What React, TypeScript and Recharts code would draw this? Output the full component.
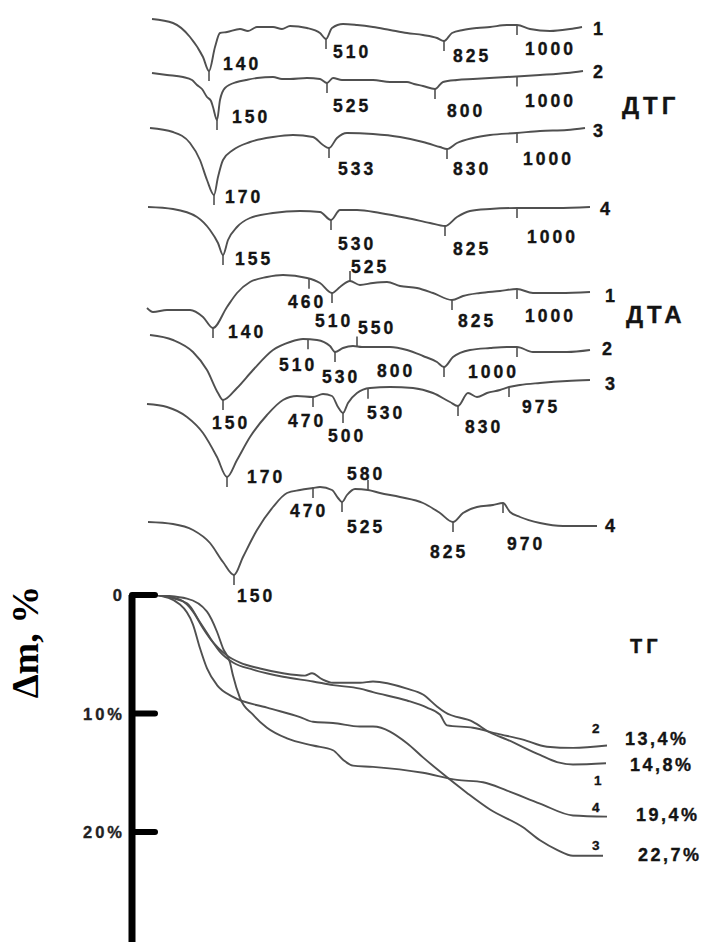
import React from 'react';
import { LineChart, Line, XAxis, YAxis, ReferenceDot } from 'recharts';

// ================= DATA =================
// t: run time (min); DTG / DTA: deflection from baseline (a.u., up = positive)
const dtg1T = [0.5, 5.75, 10, 13.25, 14.75, 16.25, 17.5, 19.25, 22.5, 24.5, 26.75, 30.75, 33, 35, 39.25, 42.5, 44, 45.5, 48.25, 51.75, 55.75, 60, 64.25, 68.25, 71.75, 73.5, 75.5, 78.25, 81.75, 85, 89.25, 91.75, 95, 100, 105, 108];
const dtg1V = [8, 4, -10, -30, -44, -20, -6, -5, -2, -4, 0, 0, -2, 1, -1, -6, -12, -1, 3, 2, 0, -3, -6, -8, -11, -14, -6, -3, -1, 0, 2, 2, -2, -4, -2, 0];
const dtg1PeakT = [14.75, 44, 73.5, 91.75];
const dtg1PeakLbl = ['140', '510', '825', '1000'];

const dtg2T = [0.5, 4.25, 8.25, 10.5, 11.75, 13, 14.25, 15.25, 15.75, 16.75, 17.5, 18.75, 21.75, 24, 26.75, 30.75, 33, 35, 39.25, 42.5, 44.25, 45.75, 48, 51.75, 55.75, 60, 64.25, 66, 68.25, 71.25, 73.25, 76.75, 80.75, 89.25, 97.5, 104.25, 108.25];
const dtg2V = [-2, -4, -6, -9, -14, -18, -26, -30, -36, -49, -29, -17, -11, -9, -7, -6, -8, -8, -7, -8, -12, -7, -9, -9, -9, -11, -11, -13, -15, -18, -11, -9, -8, -6, -4, -2, 0];
const dtg2PeakT = [16.75, 44.25, 71.25, 91.75];
const dtg2PeakLbl = ['150', '525', '800', '1000'];

const dtg3T = [0, 5.75, 10, 12.5, 14.25, 16, 17, 18.25, 20.75, 25, 30.75, 35.75, 40.75, 43.25, 44.75, 46.75, 49.25, 55.75, 62.5, 68.25, 72.5, 74.25, 76.75, 80.75, 85, 91.75, 97.5, 104.25, 108.75];
const dtg3V = [0, -4, -15, -32, -52, -67, -49, -32, -22, -14, -9, -7, -9, -17, -20, -10, -5, -6, -9, -14, -19, -21, -15, -10, -7, -5, -3, -2, 0];
const dtg3PeakT = [16, 44.75, 74.25, 91.75];
const dtg3PeakLbl = ['170', '533', '830', '1000'];

const dtg4T = [-0.5, 5.75, 11.75, 15, 17, 18.25, 19.5, 21.75, 25, 30.75, 37.5, 42.5, 45.25, 47.5, 51.75, 57.5, 64.25, 70, 73.75, 76.75, 80, 85, 91.75, 101.75, 110];
const dtg4V = [0, -2, -10, -23, -36, -48, -33, -20, -11, -6, -4, -5, -13, -3, -3, -6, -11, -16, -19, -10, -4, -2, -1, -1, 0];
const dtg4PeakT = [18.25, 45.25, 73.75, 91.75];
const dtg4PeakLbl = ['155', '530', '825', '1000'];

const dta1T = [-0.75, 0.75, 4.25, 10, 13.25, 15.75, 19.25, 21.75, 25, 29.25, 33.25, 39.25, 42.5, 45.5, 47.5, 50, 52.5, 55.75, 59.25, 62.5, 66.75, 70.75, 75.5, 78.25, 82.5, 87.5, 91.75, 95.75, 102.5, 110];
const dta1V = [-16, -20, -18, -18, -25, -36, -15, -1, 10, 15, 17, 14, 9, -1, 5, 11, 7, 9, 10, 6, 4, -1, -8, -4, -1, 1, 3, -1, -1, 0];
const dta1PeakT = [15.75, 39.75, 50, 45.5, 75.5, 91.75];
const dta1PeakLbl = ['140', '460', '525', '510', '825', '1000'];

const dta2T = [0, 5.75, 10.75, 14.25, 17, 18.25, 21.75, 25.75, 30.75, 35, 38.25, 41.75, 45, 46.25, 48.25, 50.75, 53, 55.75, 60, 64.25, 68.25, 71.75, 73.5, 75.75, 80, 85, 89.25, 91.75, 95.75, 104.25, 110];
const dta2V = [15, 10, -2, -20, -43, -50, -38, -20, 0, 8, 11, 10, 4, -2, 2, 4, 3, 3, 3, 0, -6, -12, -17, -7, 0, 2, 3, 3, -2, -2, 0];
const dta2PeakT = [18.25, 39.5, 46.25, 51.75, 73.5, 91.75];
const dta2PeakLbl = ['150', '510', '530', '550', '800', '1000'];

const dta3T = [-0.75, 4.25, 9.25, 13.25, 16.75, 19.25, 21.75, 25, 29.25, 33.25, 36.75, 40.75, 43.25, 45.5, 47, 48.25, 49.5, 51.75, 55, 60, 65.75, 70.75, 75, 77, 79.5, 81.75, 84.25, 87.5, 89.75, 92.5, 97.5, 104.25, 110];
const dta3V = [-24, -27, -37, -53, -77, -97, -80, -57, -35, -20, -16, -17, -14, -16, -27, -33, -23, -13, -8, -7, -8, -13, -22, -26, -13, -17, -13, -10, -7, -5, -3, -1, 0];
const dta3PeakT = [19.25, 40.75, 48.25, 54.5, 77, 89.75];
const dta3PeakLbl = ['170', '470', '500', '530', '830', '975'];

const dta4T = [-0.5, 5.75, 10.75, 15, 18.25, 21, 23.25, 26.75, 30.75, 34.25, 37.5, 40.75, 42.5, 45.5, 47, 48, 49.25, 51.25, 54.5, 57.5, 62.5, 68.25, 72.5, 75.75, 78.25, 81.75, 85.75, 88.25, 90, 92.5, 97.5, 103.25, 111.75];
const dta4V = [4, 2, -4, -17, -36, -49, -31, -4, 19, 33, 36, 38, 39, 36, 28, 24, 31, 37, 36, 33, 29, 23, 13, 4, 13, 19, 21, 23, 14, 9, 3, 0, 0];
const dta4PeakT = [21, 40.75, 48, 54.5, 75.75, 88.25];
const dta4PeakLbl = ['150', '470', '525', '580', '825', '970'];

// TG: mass loss, %
const tg1T = [1.75, 7.5, 10.75, 13.25, 15.75, 19.25, 22.5, 27.5, 33.25, 38.75, 40.5, 43, 45.75, 52.5, 55.75, 64.25, 68.25, 71.75, 73.75, 80.75, 85, 89.25, 97.5, 101.75, 105.75, 114];
const tg1V = [0, 0.4, 1.4, 2.8, 4.0, 5.1, 5.7, 6.2, 6.6, 6.8, 6.6, 7.1, 7.4, 7.4, 7.3, 7.9, 8.4, 9.4, 9.9, 10.7, 11.6, 12.2, 13.5, 14.1, 14.3, 14.2];
const tg2T = [1.75, 9.25, 12.5, 15, 17.5, 20.75, 25.75, 33.25, 40.75, 45.75, 52.5, 55.75, 64.25, 69.25, 72.5, 74.25, 80.75, 86.75, 93.25, 99.25, 105.75, 114.25];
const tg2V = [0, 0.7, 2.3, 3.6, 4.8, 5.7, 6.3, 6.9, 7.3, 7.6, 7.9, 8.2, 8.9, 9.5, 10.1, 11.0, 11.2, 11.7, 12.2, 12.8, 12.9, 12.7];
const tg3T = [1.75, 7.5, 10.75, 12.5, 14.25, 16.75, 20.75, 29.25, 37.5, 40.75, 45.75, 52.5, 55.75, 64.25, 68.25, 72.5, 79.25, 85, 93.25, 97.5, 101.75, 105.75, 113.25];
const tg3V = [0, 0.8, 2.5, 4.5, 6.2, 7.6, 8.6, 9.5, 10.3, 10.7, 10.8, 11.1, 11.1, 12.5, 13.7, 14.9, 16.7, 18.1, 19.6, 20.7, 21.5, 22.0, 22.0];
const tg4T = [1.75, 9.25, 14.25, 16.75, 18.25, 20, 20.75, 22.5, 25.75, 29.25, 34.25, 40.75, 45.75, 48.25, 50.75, 55.75, 68.25, 76.75, 83.25, 89.25, 97.5, 105.75, 114.25];
const tg4V = [0, 0.3, 1.4, 3.1, 4.5, 5.7, 6.8, 8.7, 10.1, 11.2, 12.1, 12.7, 13.1, 13.9, 14.4, 14.5, 15.0, 15.6, 15.8, 16.5, 17.6, 18.6, 18.7];
const tgFinalLbl = ['14,8%', '13,4%', '22,7%', '19,4%'];
const tgTicks = [0, 10, 20];
const tgTickLbl = ['0', '10%', '20%'];

// ================= LAYOUT / STYLE =================
const W = 709;
const H = 942;
const T_DOMAIN: [number, number] = [-37.5, 139.75];
const TG_TOP = 595;
const TG_AXIS_X = 132;
const FONT = '"Liberation Sans", Arial, Helvetica, sans-serif';
const CURVE = '#505050';
const INK = '#141414';

type Lay = [number, number, number]; // tick direction, dx, dy
const THERMO = [
  { t: dtg1T, v: dtg1V, base: 27, pk: dtg1PeakT, lbl: dtg1PeakLbl, num: '1', nd: [11, 8], lay: [[1, 14, -1], [1, 7, 19], [1, 9, 21], [1, 8, 30]] as Lay[] },
  { t: dtg2T, v: dtg2V, base: 71, pk: dtg2PeakT, lbl: dtg2PeakLbl, num: '2', nd: [10, 7], lay: [[1, 15, 3], [1, 6, 29], [1, 12, 28], [1, 8, 31]] as Lay[], title: 'ДТГ', td: [39, 43] },
  { t: dtg3T, v: dtg3V, base: 128, pk: dtg3PeakT, lbl: dtg3PeakLbl, num: '3', nd: [8, 9], lay: [[1, 11, 8], [1, 9, 27], [1, 6, 26], [1, 6, 32]] as Lay[] },
  { t: dtg4T, v: dtg4V, base: 207, pk: dtg4PeakT, lbl: dtg4PeakLbl, num: '4', nd: [10, 8], lay: [[1, 12, 10], [1, 7, 30], [1, 8, 29], [1, 10, 35]] as Lay[] },
  { t: dta1T, v: dta1V, base: 292, pk: dta1PeakT, lbl: dta1PeakLbl, num: '1', nd: [15, 10], lay: [[1, 15, 10], [1, -21, 29], [-1, 1, -8], [1, -17, 34], [1, 6, 27], [1, 8, 33]] as Lay[], title: 'ДТА', td: [36, 31] },
  { t: dta2T, v: dta2V, base: 350, pk: dta2PeakT, lbl: dta2PeakLbl, num: '2', nd: [12, 5], lay: [[1, -11, 29], [1, -29, 32], [1, -13, 31], [-1, 1, -12], [1, -67, 10], [1, -49, 31]] as Lay[] },
  { t: dta3T, v: dta3V, base: 380, pk: dta3PeakT, lbl: dta3PeakLbl, num: '3', nd: [15, 10], lay: [[1, 20, 6], [1, -25, 30], [1, -15, 29], [1, -1, 30], [1, 7, 27], [1, 13, 26]] as Lay[] },
  { t: dta4T, v: dta4V, base: 526, pk: dta4PeakT, lbl: dta4PeakLbl, num: '4', nd: [8, 6], lay: [[1, 3, 27], [1, -23, 29], [1, 5, 31], [-1, -21, -10], [1, -23, 36], [1, 4, 47]] as Lay[] },
];

const TG = [
  { t: tg1T, v: tg1V, num: '1', nd: [-12, 22], fin: tgFinalLbl[0], fd: [24, 8] },
  { t: tg2T, v: tg2V, num: '2', nd: [-15, -13], fin: tgFinalLbl[1], fd: [18, -1], title: 'ТГ', td: [23, -93] },
  { t: tg3T, v: tg3V, num: '3', nd: [-11, -6], fin: tgFinalLbl[2], fd: [35, 5] },
  { t: tg4T, v: tg4V, num: '4', nd: [-15, -5], fin: tgFinalLbl[3], fd: [29, 4] },
];

const interp = (x: number, T: number[], V: number[]) => {
  if (x <= T[0]) return V[0];
  for (let i = 1; i < T.length; i++) {
    if (x <= T[i]) {
      const f = (x - T[i - 1]) / (T[i] - T[i - 1]);
      return V[i - 1] + f * (V[i] - V[i - 1]);
    }
  }
  return V[V.length - 1];
};

const Txt = ({ x, y, children, size = 17.5, ls = 3, anchor = 'start', fill = INK }: any) => (
  <text
    x={x}
    y={y}
    fontFamily={FONT}
    fontWeight="bold"
    fontSize={size}
    letterSpacing={ls}
    textAnchor={anchor}
    fill={fill}
    stroke={fill}
    strokeWidth={0.35}
  >
    {children}
  </text>
);

const annotShape = (dir: number, dx: number, dy: number, text: string) => (p: any) => (
  <g>
    {dir !== 0 && (
      <line x1={p.cx} y1={p.cy} x2={p.cx} y2={p.cy + dir * 10} stroke={CURVE} strokeWidth={1.6} />
    )}
    <Txt x={p.cx + dx} y={p.cy + dy}>{text}</Txt>
  </g>
);

const TgTick = (props: any) => {
  const { y, payload } = props;
  const idx = tgTicks.indexOf(payload.value);
  return (
    <g>
      <line x1={TG_AXIS_X} y1={y} x2={TG_AXIS_X + 23} y2={y} stroke="#000" strokeWidth={6} strokeLinecap="round" />
      <Txt x={TG_AXIS_X - 7} y={y + 6} size={16.5} ls={3} anchor="end" fill="#222">{tgTickLbl[idx]}</Txt>
    </g>
  );
};

const TgTitle = (props: any) => {
  const vb = props.viewBox || { x: 0, y: TG_TOP };
  const cx = vb.x + 25;
  const cy = vb.y + 47;
  return (
    <text
      x={cx}
      y={cy}
      transform={`rotate(-90 ${cx} ${cy})`}
      textAnchor="middle"
      dominantBaseline="central"
      fontFamily='"Liberation Serif", "Times New Roman", serif'
      fontWeight="bold"
      fontSize={38}
      fill="#000"
    >
      Δm, %
    </text>
  );
};

export default function App() {
  return (
    <div style={{ position: 'absolute', left: 0, top: 0, width: W, height: H, background: '#fff' }}>
      {/* DTG + DTA */}
      <div style={{ position: 'absolute', left: 0, top: 0 }}>
        <LineChart width={W} height={H} margin={{ top: 0, right: 0, bottom: 0, left: 0 }}>
          <XAxis type="number" dataKey="t" domain={T_DOMAIN} hide allowDataOverflow />
          <YAxis type="number" domain={[-H, 0]} hide allowDataOverflow />
          {THERMO.map((c, i) => (
            <Line
              key={'th' + i}
              data={c.t.map((t, j) => ({ t, y: c.v[j] - c.base }))}
              dataKey="y"
              type="monotoneX"
              stroke={CURVE}
              strokeWidth={1.9}
              dot={false}
              activeDot={false}
              isAnimationActive={false}
            />
          ))}
          {THERMO.flatMap((c, i) =>
            c.pk.map((pt, k) => (
              <ReferenceDot
                key={`pk${i}-${k}`}
                x={pt}
                y={interp(pt, c.t, c.v) - c.base}
                r={0}
                ifOverflow="visible"
                shape={annotShape(c.lay[k][0], c.lay[k][1], c.lay[k][2], c.lbl[k])}
              />
            ))
          )}
          {THERMO.map((c, i) => (
            <ReferenceDot
              key={'num' + i}
              x={c.t[c.t.length - 1]}
              y={c.v[c.v.length - 1] - c.base}
              r={0}
              ifOverflow="visible"
              shape={(p: any) => (
                <g>
                  <Txt x={p.cx + c.nd[0]} y={p.cy + c.nd[1]} size={18} ls={0}>{c.num}</Txt>
                  {c.title && (
                    <Txt x={p.cx + c.td![0]} y={p.cy + c.td![1]} size={24} ls={4}>{c.title}</Txt>
                  )}
                </g>
              )}
            />
          ))}
        </LineChart>
      </div>
      {/* TG */}
      <div style={{ position: 'absolute', left: 0, top: 0 }}>
        <LineChart width={W} height={H} margin={{ top: TG_TOP, right: 0, bottom: 0, left: 0 }}>
          <XAxis type="number" dataKey="t" domain={[(TG_AXIS_X - 150) / 4, T_DOMAIN[1]]} hide allowDataOverflow />
          <YAxis
            type="number"
            domain={[0, 29.28]}
            reversed
            width={TG_AXIS_X}
            ticks={tgTicks}
            interval={0}
            axisLine={{ stroke: '#000', strokeWidth: 7 }}
            tickLine={false}
            tick={<TgTick />}
            label={<TgTitle />}
            allowDataOverflow
          />
          {TG.map((c, i) => (
            <Line
              key={'tg' + i}
              data={c.t.map((t, j) => ({ t, v: c.v[j] }))}
              dataKey="v"
              type="monotoneX"
              stroke={CURVE}
              strokeWidth={1.9}
              dot={false}
              activeDot={false}
              isAnimationActive={false}
            />
          ))}
          {TG.map((c, i) => (
            <ReferenceDot
              key={'tgl' + i}
              x={c.t[c.t.length - 1]}
              y={c.v[c.v.length - 1]}
              r={0}
              ifOverflow="visible"
              shape={(p: any) => (
                <g>
                  <Txt x={p.cx + c.nd[0]} y={p.cy + c.nd[1]} size={13.5} ls={0}>{c.num}</Txt>
                  <Txt x={p.cx + c.fd[0]} y={p.cy + c.fd[1]} size={18} ls={2.5}>{c.fin}</Txt>
                  {c.title && (
                    <Txt x={p.cx + c.td![0]} y={p.cy + c.td![1]} size={20} ls={4}>{c.title}</Txt>
                  )}
                </g>
              )}
            />
          ))}
        </LineChart>
      </div>
    </div>
  );
}
